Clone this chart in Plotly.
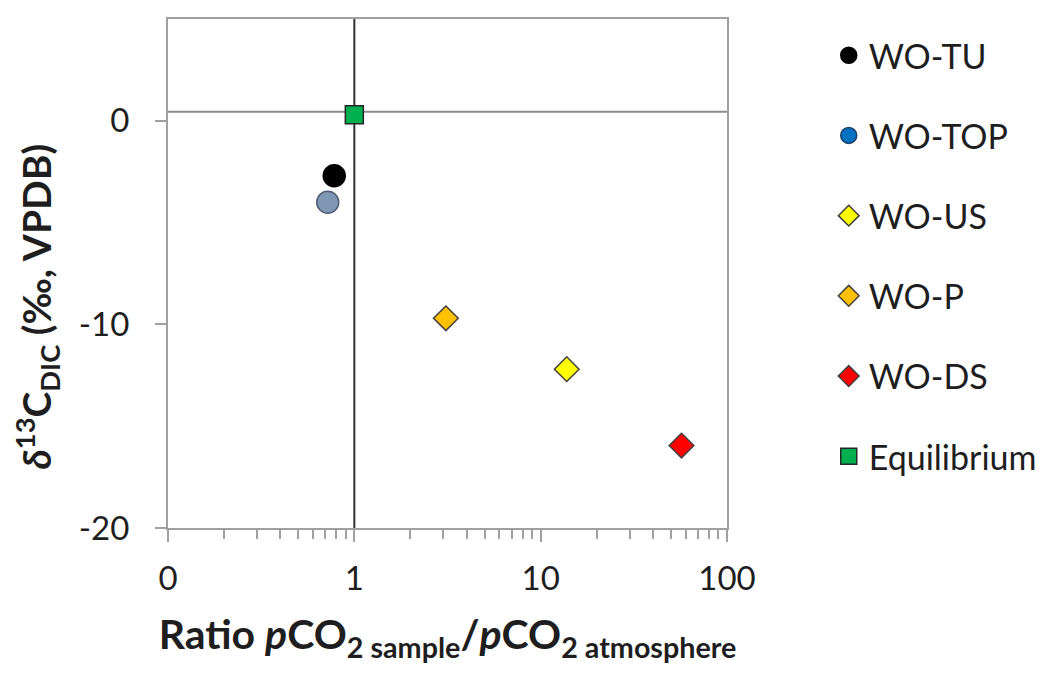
import plotly.graph_objects as go

# ---- data ----
series_names = ["WO-TU", "WO-TOP", "WO-US", "WO-P", "WO-DS", "Equilibrium"]
ratio_pco2 = [0.78, 0.72, 13.8, 3.1, 57.0, 1.0]
d13c_dic = [-2.7, -4.0, -12.2, -9.7, -15.95, 0.3]
x_tick_vals = [0.1, 1, 10, 100]
x_tick_text = ["0", "1", "10", "100"]
y_tick_vals = [-20, -10, 0]
y_tick_text = ["-20", "-10", "0"]
y_range = [-20, 5]
ref_ratio = 1.0      # vertical reference line (ratio = 1)
ref_d13c = 0.44      # horizontal reference line

# ---- styles ----
symbols = ["circle", "circle", "diamond", "diamond", "diamond", "square"]
fill_plot = ["#000000", "#8097b4", "#ffff00", "#ffc000", "#ff0000", "#00b050"]
fill_legend = ["#000000", "#0070c0", "#ffff00", "#ffc000", "#ff0000", "#00b050"]
sizes = [22, 22, 19, 19, 19, 18]
edge = ["#000000", "#4f5f78", "#404040", "#404040", "#404040", "#262626"]

FONT = "Lato, 'Open Sans', sans-serif"
TXT = "#1e1e1e"
AX = "#a0a0a0"

fig = go.Figure()

# reference lines (drawn first so markers sit on top)
fig.add_trace(go.Scatter(x=[ref_ratio, ref_ratio], y=y_range, mode="lines",
                         line=dict(color="#303030", width=2),
                         showlegend=False, hoverinfo="skip"))
fig.add_shape(type="line", xref="paper", yref="y",
              x0=0, x1=1, y0=ref_d13c, y1=ref_d13c,
              line=dict(color="#8c8c8c", width=2), layer="below")

for i, name in enumerate(series_names):
    same = fill_plot[i] == fill_legend[i]
    fig.add_trace(go.Scatter(
        x=[ratio_pco2[i]], y=[d13c_dic[i]], mode="markers", name=name,
        legendgroup=name, showlegend=same,
        marker=dict(symbol=symbols[i], size=sizes[i], color=fill_plot[i],
                    line=dict(color=edge[i], width=1.5)),
    ))
    if not same:
        fig.add_trace(go.Scatter(
            x=[None], y=[None], mode="markers", name=name, legendgroup=name,
            marker=dict(symbol=symbols[i], size=sizes[i], color=fill_legend[i],
                        line=dict(color="#1f3f66", width=1.5)),
        ))

fig.update_layout(
    width=1048, height=667,
    margin=dict(l=160, r=329, t=9, b=147),
    plot_bgcolor="white", paper_bgcolor="white",
    font=dict(family=FONT, size=33, color=TXT),
    showlegend=True,
    legend=dict(x=1.182, y=0.985, xanchor="left", yanchor="top",
                traceorder="grouped", tracegroupgap=33,
                font=dict(size=34, color=TXT), itemwidth=30,
                bgcolor="rgba(0,0,0,0)"),
    xaxis=dict(type="log", range=[-1, 2],
               tickvals=x_tick_vals, ticktext=x_tick_text,
               ticks="outside", ticklen=12, tickwidth=2, tickcolor=AX,
               minor=dict(ticks="outside", ticklen=9, tickwidth=2, tickcolor=AX, dtick="D1"),
               showline=True, linecolor=AX, linewidth=2, mirror=True,
               showgrid=False, zeroline=False, ticklabelstandoff=8,
               tickfont=dict(size=33, color=TXT),
               title=dict(text="<b>Ratio <i>p</i>CO<sub>2 sample</sub>/<i>p</i>CO<sub>2 atmosphere</sub></b>",
                          font=dict(size=41, color=TXT), standoff=25)),
    yaxis=dict(range=y_range, tickvals=y_tick_vals, ticktext=y_tick_text,
               ticks="outside", ticklen=11, tickwidth=2, tickcolor=AX,
               showline=True, linecolor=AX, linewidth=2, mirror=True,
               showgrid=False, zeroline=False, ticklabelstandoff=19,
               tickfont=dict(size=33, color=TXT),
               title=dict(text="<b><i>δ</i><sup>13</sup>C<sub>DIC</sub> (‰, VPDB)" + "&nbsp;" * 7 + "</b>",
                          font=dict(size=39, color=TXT), standoff=18)),
)

fig.write_html("out.html")
